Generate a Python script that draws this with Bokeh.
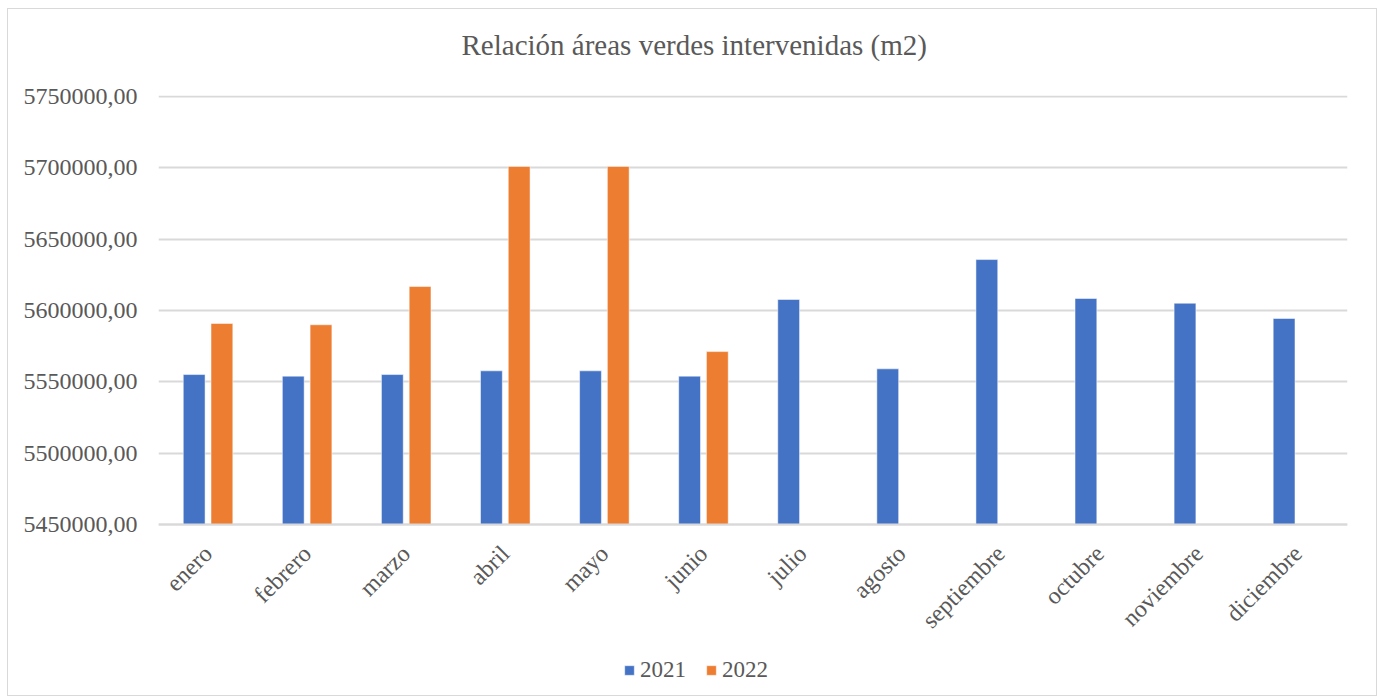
import math
from bokeh.plotting import figure
from bokeh.models import (FactorRange, Range1d, FixedTicker, CustomJSTickFormatter,
                          Legend, LegendItem, ColumnDataSource, Title)
from bokeh.transform import dodge
from bokeh.embed import file_html
from bokeh.resources import INLINE

months = ["enero", "febrero", "marzo", "abril", "mayo", "junio", "julio",
          "agosto", "septiembre", "octubre", "noviembre", "diciembre"]
values_2021 = [5555100, 5554000, 5555100, 5557700, 5557700, 5554000,
               5607700, 5559100, 5635700, 5608400, 5605100, 5594400]
values_2022 = [5590900, 5590000, 5616800, 5701000, 5701000, 5571200,
               None, None, None, None, None, None]
y_ticks = [5450000, 5500000, 5550000, 5600000, 5650000, 5700000, 5750000]
title_text = "Relación áreas verdes intervenidas (m2)"

FONT = "Liberation Serif"
TXT = "#595959"
GRID = "#d9d9d9"

# frame extends below the value axis so the legend can sit inside it
FRAME_H = 600
PX_PER_SPAN = 428  # pixels between lowest and highest tick
y_end = y_ticks[-1] + 701
y_start = y_end - FRAME_H * (y_ticks[-1] - y_ticks[0]) / PX_PER_SPAN

p = figure(frame_width=1189, frame_height=FRAME_H, output_backend="svg", toolbar_location=None,
           x_range=FactorRange(factors=months, range_padding=0),
           y_range=Range1d(y_start, y_end))
p.styles = {"margin-left": "8px", "margin-top": "9px", "outline": "1px solid #d9d9d9"}
p.min_border_left = 150
p.min_border_right = 29
p.min_border_top = 86
p.min_border_bottom = 0
p.outline_line_color = None
p.background_fill_color = "white"
p.border_fill_color = "white"

spacer = Title(text=" ", text_font_size="10px", standoff=22)
p.add_layout(spacer, "above")
t = Title(text=title_text, align="left", offset=303, text_font=FONT, text_font_style="normal",
          text_font_size="29px", text_color=TXT, standoff=0)
p.add_layout(t, "above")

src21 = ColumnDataSource(dict(x=months, top=values_2021))
m22 = [m for m, v in zip(months, values_2022) if v is not None]
v22 = [v for v in values_2022 if v is not None]
src22 = ColumnDataSource(dict(x=m22, top=v22))

b21 = p.vbar(x=dodge("x", -0.14, range=p.x_range), top="top", bottom=y_ticks[0],
             width=0.22, source=src21, fill_color="#4472C4", line_color="white", line_width=0.5)
b22 = p.vbar(x=dodge("x", 0.14, range=p.x_range), top="top", bottom=y_ticks[0],
             width=0.22, source=src22, fill_color="#ED7D31", line_color="white", line_width=0.5)

p.yaxis.ticker = FixedTicker(ticks=y_ticks)
p.yaxis.formatter = CustomJSTickFormatter(code="return tick.toFixed(2).replace('.', ',');")
p.yaxis.axis_line_color = None
p.yaxis.major_tick_line_color = None
p.yaxis.minor_tick_line_color = None
p.yaxis.major_label_text_font = FONT
p.yaxis.major_label_text_font_size = "24px"
p.yaxis.major_label_text_color = TXT
p.yaxis.major_label_standoff = 15

p.xaxis.fixed_location = y_ticks[0]
p.xaxis.axis_line_color = GRID
p.xaxis.axis_line_width = 2
p.xaxis.major_tick_line_color = None
p.xaxis.minor_tick_line_color = None
p.xaxis.major_label_orientation = math.pi / 4
p.xaxis.major_label_text_font = FONT
p.xaxis.major_label_text_font_size = "24px"
p.xaxis.major_label_text_color = TXT
p.xaxis.major_label_standoff = 19

p.xgrid.grid_line_color = None
p.ygrid.grid_line_color = GRID
p.ygrid.grid_line_width = 2

legend = Legend(items=[LegendItem(label="2021", renderers=[b21]),
                       LegendItem(label="2022", renderers=[b22])],
                orientation="horizontal", location=(465, 12))
legend.label_text_font = FONT
legend.label_text_font_size = "23px"
legend.label_text_color = TXT
legend.glyph_width = 12
legend.glyph_height = 12
legend.label_standoff = 5
legend.spacing = 19
legend.padding = 0
legend.margin = 0
legend.border_line_color = None
legend.background_fill_alpha = 0
p.add_layout(legend)

open("out.html", "w").write(file_html(p, INLINE))
